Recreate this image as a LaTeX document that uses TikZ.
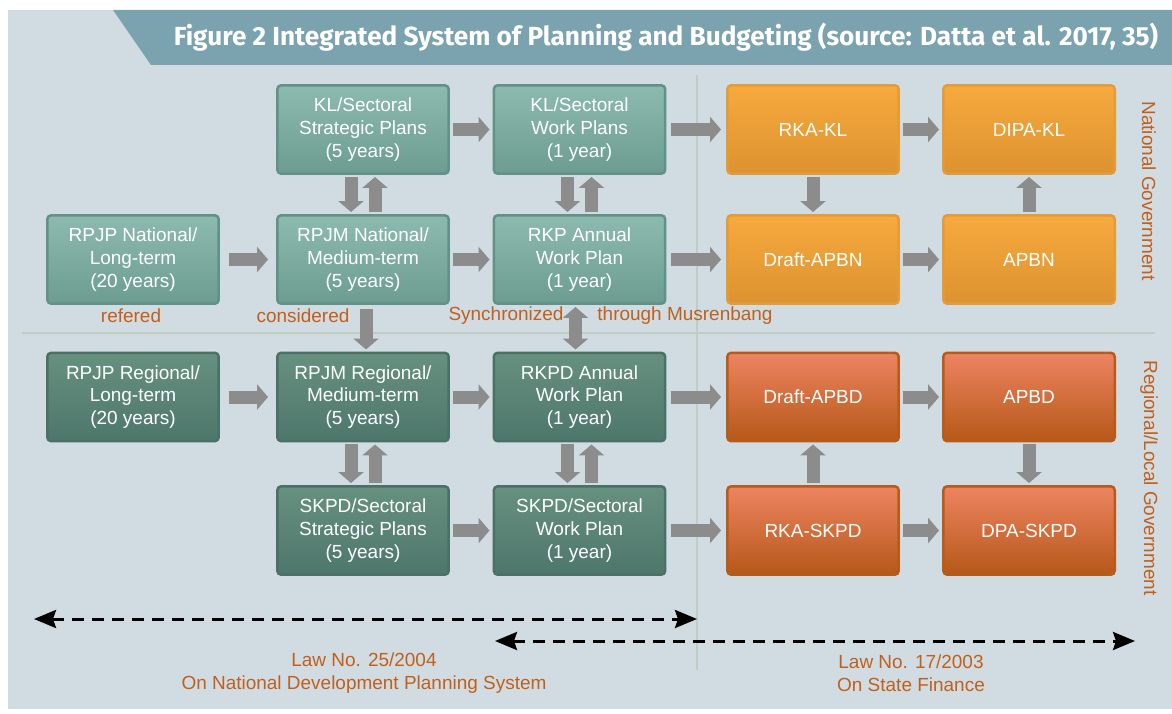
\documentclass[tikz,border=0pt]{standalone}
\usepackage{fontspec}
\setmainfont{Liberation Sans}
\newfontfamily\titlefont{Fira Sans}
\usetikzlibrary{arrows.meta,calc}

\definecolor{panel}{HTML}{D0DCE2}
\definecolor{banner}{HTML}{7AA3AF}
\definecolor{natTop}{HTML}{8DBAAE}
\definecolor{natBot}{HTML}{6C9D90}
\definecolor{natLine}{HTML}{62918A}
\definecolor{regTop}{HTML}{66907F}
\definecolor{regBot}{HTML}{4E776C}
\definecolor{regLine}{HTML}{4B7066}
\definecolor{budTop}{HTML}{F6AA3E}
\definecolor{budBot}{HTML}{DC922F}
\definecolor{budLine}{HTML}{E39C3A}
\definecolor{locTop}{HTML}{EE8462}
\definecolor{locBot}{HTML}{B65818}
\definecolor{locLine}{HTML}{B65C1A}
\definecolor{flowgray}{HTML}{8C8C8C}
\definecolor{divline}{HTML}{BFCDC2}
\definecolor{notecol}{HTML}{C0601C}

\newcommand{\boxfont}{\fontsize{10.8}{13}\selectfont}

\tikzset{
    planbox/.style={
           rectangle,
           rounded corners=0.08cm,
           line width=0.05cm,
           minimum width=3.43cm,
           minimum height=1.77cm,
           inner sep=2pt,
           align=center,
           text=white,
           font=\boxfont,
           },
    natplan/.style={planbox, draw=natLine, top color=natTop, bottom color=natBot},
    regplan/.style={planbox, draw=regLine, top color=regTop, bottom color=regBot},
    natbudget/.style={planbox, draw=budLine, top color=budTop, bottom color=budBot},
    regbudget/.style={planbox, draw=locLine, top color=locTop, bottom color=locBot},
    flow/.style={
           draw=flowgray,
           line width=0.26cm,
           -{Triangle[length=0.22cm,width=0.5cm]},
           shorten <=0.06cm, shorten >=0.06cm,
           },
    vflow/.style={flow, shorten <=0.04cm, shorten >=0.04cm},
    divider/.style={draw=divline, line width=0.05cm},
    lawline/.style={
           draw=black, line width=0.06cm,
           dash pattern=on 0.24cm off 0.16cm,
           {Stealth[length=0.44cm,width=0.36cm,inset=0.06cm]}-{Stealth[length=0.44cm,width=0.36cm,inset=0.06cm]},
           },
    note/.style={text=notecol, font=\boxfont, inner sep=0pt},
}

\begin{document}
\begin{tikzpicture}[x=0.02cm,y=-0.02cm]

 \useasboundingbox (0,0) rectangle (1172,713);
 \fill[white] (0,0) rectangle (1172,713);
 \fill[panel] (8,10) rectangle (1172,709);
 \fill[banner] (113,10) -- (1172,10) -- (1172,65) -- (151,65) -- cycle;
 \node[text=white, font=\titlefont\bfseries\fontsize{14.9}{17}\selectfont] (title) at (666,37)
  {Figure 2 Integrated System of Planning and Budgeting (source: Datta et al. 2017, 35)};

 % dividers
 \coordinate (vtop) at (697,75);
 \coordinate (vbot) at (697,670);
 \coordinate (hleft) at (22,333);
 \coordinate (hright) at (1155,333);
 \draw[divider] (vtop) -- (vbot);
 \draw[divider] (hleft) -- (hright);

 % national planning
 \node[natplan] (KLstrat) at (363,129.5) {KL/Sectoral\\Strategic Plans\\(5 years)};
 \node[natplan] (KLwork) at (579.5,129.5) {KL/Sectoral\\Work Plans\\(1 year)};
 \node[natplan] (RPJPnat) at (133,259.5) {RPJP National/\\Long-term\\(20 years)};
 \node[natplan] (RPJMnat) at (363,259.5) {RPJM National/\\Medium-term\\(5 years)};
 \node[natplan] (RKP) at (579.5,259.5) {RKP Annual\\Work Plan\\(1 year)};

 % regional planning
 \node[regplan] (RPJPreg) at (133,397) {RPJP Regional/\\Long-term\\(20 years)};
 \node[regplan] (RPJMreg) at (363,397) {RPJM Regional/\\Medium-term\\(5 years)};
 \node[regplan] (RKPD) at (579.5,397) {RKPD Annual\\Work Plan\\(1 year)};
 \node[regplan] (SKPDstrat) at (363,530.5) {SKPD/Sectoral\\Strategic Plans\\(5 years)};
 \node[regplan] (SKPDwork) at (579.5,530.5) {SKPD/Sectoral\\Work Plan\\(1 year)};

 % budgeting
 \node[natbudget] (RKAKL) at (813,129.5) {RKA-KL};
 \node[natbudget] (DIPAKL) at (1029,129.5) {DIPA-KL};
 \node[natbudget] (DraftAPBN) at (813,259.5) {Draft-APBN};
 \node[natbudget] (APBN) at (1029,259.5) {APBN};
 \node[regbudget] (DraftAPBD) at (813,397) {Draft-APBD};
 \node[regbudget] (APBD) at (1029,397) {APBD};
 \node[regbudget] (RKASKPD) at (813,530.5) {RKA-SKPD};
 \node[regbudget] (DPASKPD) at (1029,530.5) {DPA-SKPD};

 % horizontal flows
 \draw[flow, shorten <=0.18cm, shorten >=0.16cm] (RPJPnat) -- (RPJMnat);
 \draw[flow, shorten <=0.18cm, shorten >=0.16cm] (RPJPreg) -- (RPJMreg);
 \foreach \a/\b in {KLstrat/KLwork, RPJMnat/RKP, RPJMreg/RKPD, SKPDstrat/SKPDwork,
                    RKAKL/DIPAKL, DraftAPBN/APBN, DraftAPBD/APBD, RKASKPD/DPASKPD}
   \draw[flow] (\a) -- (\b);
 \foreach \a/\b in {KLwork/RKAKL, RKP/DraftAPBN, RKPD/DraftAPBD, SKPDwork/RKASKPD}
   \draw[flow, shorten <=0.1cm, shorten >=0.1cm] (\a) -- (\b);

 % vertical flows
 \foreach \a/\b in {KLstrat/RPJMnat, KLwork/RKP, RPJMreg/SKPDstrat, RKPD/SKPDwork} {
   \draw[vflow] ($(\a.south)+(-12,0)$) -- ($(\b.north)+(-12,0)$);
   \draw[vflow] ($(\b.north)+(12,0)$) -- ($(\a.south)+(12,0)$);
 }
 \draw[vflow, shorten <=0.08cm] ($(RPJMnat.south)+(3,0)$) -- ($(RPJMreg.north)+(3,0)$);
 \draw[vflow, {Triangle[length=0.22cm,width=0.5cm]}-{Triangle[length=0.22cm,width=0.5cm]}]
   ($(RKP.south)+(-4,0)$) -- ($(RKPD.north)+(-4,0)$);
 \draw[vflow] (RKAKL) -- (DraftAPBN);
 \draw[vflow] (APBN) -- (DIPAKL);
 \draw[vflow] (RKASKPD) -- (DraftAPBD);
 \draw[vflow] (APBD) -- (DPASKPD);

 % connector labels
 \node[note] (refered) at (131,316) {refered};
 \node[note] (considered) at (303,316) {considered};
 \node[note] (sync) at (506,316) {Synchronized};
 \node[note] (musren) at (685,316) {through Musrenbang};

 % side labels
 \node[note, rotate=-90] (natgov) at (1149,191) {National Government};
 \node[note, rotate=-90] (reggov) at (1149,478) {Regional/Local Government};

 % laws
 \coordinate (lawAleft) at (34,619);
 \coordinate (lawAright) at (697,619);
 \coordinate (lawBleft) at (495,641);
 \coordinate (lawBright) at (1135,641);
 \draw[lawline] (lawAleft) -- (lawAright);
 \draw[lawline] (lawBleft) -- (lawBright);
 \node[note, align=center] (lawA) at (364,673) {Law No. 25/2004\\On National Development Planning System};
 \node[note, align=center] (lawB) at (911,673) {Law No. 17/2003\\On State Finance};

\end{tikzpicture}
\end{document}
